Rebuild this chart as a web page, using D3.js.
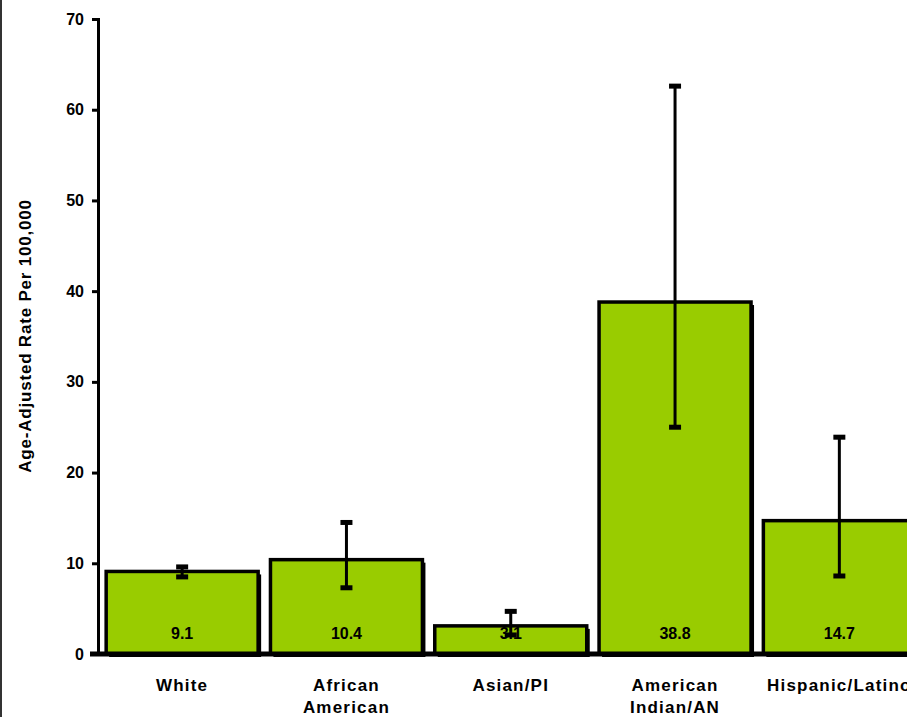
<!DOCTYPE html>
<html>
<head>
<meta charset="utf-8">
<script src="https://cdn.jsdelivr.net/npm/d3@7/dist/d3.min.js"></script>
<style>
  html, body { margin: 0; padding: 0; background: #fff; }
  svg { display: block; }
  text { font-family: "Liberation Sans", Arial, sans-serif; fill: #000; }
</style>
</head>
<body>
<script>
// Age-adjusted rates by race/ethnicity with confidence intervals
const categories = ["White", "African American", "Asian/PI", "American Indian/AN", "Hispanic/Latino"];
const categoryLines = [["White"], ["African", "American"], ["Asian/PI"], ["American", "Indian/AN"], ["Hispanic/Latino"]];
const rates = [9.1, 10.4, 3.1, 38.8, 14.7];
const lower = [8.5, 7.3, 2.1, 25.0, 8.6];
const upper = [9.6, 14.5, 4.7, 62.6, 23.9];
const yTicks = [0, 10, 20, 30, 40, 50, 60, 70];

const W = 907, H = 717;
const svg = d3.select("body").append("svg").attr("width", W).attr("height", H);

// left frame edge
svg.append("rect").attr("x", 0).attr("y", 0).attr("width", 2).attr("height", H).attr("fill", "#333");

const x = d3.scaleBand().domain(categories).range([100, 921.5]).paddingInner(0.075).paddingOuter(0.0375);
const y = d3.scaleLinear().domain([0, 70]).range([654, 19]);

// bars with offset shadow
const g = svg.append("g");
categories.forEach((c, i) => {
  const x0 = x(c), bw = x.bandwidth();
  g.append("rect")
    .attr("x", x0 + 3).attr("y", y(rates[i]) + 3)
    .attr("width", bw).attr("height", y(0) - y(rates[i]))
    .attr("fill", "#000");
  g.append("rect")
    .attr("x", x0).attr("y", y(rates[i]))
    .attr("width", bw).attr("height", y(0) - y(rates[i]))
    .attr("fill", "#99CC00").attr("stroke", "#000").attr("stroke-width", 3.5);
});

// y axis
const yAxis = d3.axisLeft(y).tickValues(yTicks).tickSize(6).tickPadding(8);
const ay = svg.append("g").attr("transform", "translate(98,0)").call(yAxis);
ay.select(".domain").attr("stroke", "#000").attr("stroke-width", 3);
ay.selectAll(".tick line").attr("stroke", "#000").attr("stroke-width", 3);
ay.selectAll(".tick text").attr("font-size", 16).attr("font-weight", "bold")
  .attr("font-family", "'Liberation Sans', Arial, sans-serif").attr("fill", "#000");

// baseline
svg.append("line").attr("x1", 90).attr("x2", W).attr("y1", y(0)).attr("y2", y(0))
  .attr("stroke", "#000").attr("stroke-width", 5);

// error bars
categories.forEach((c, i) => {
  const cx = x(c) + x.bandwidth() / 2;
  svg.append("line").attr("x1", cx).attr("x2", cx).attr("y1", y(upper[i])).attr("y2", y(lower[i]))
    .attr("stroke", "#000").attr("stroke-width", 3);
  [upper[i], lower[i]].forEach(v => {
    svg.append("line").attr("x1", cx - 6).attr("x2", cx + 6).attr("y1", y(v)).attr("y2", y(v))
      .attr("stroke", "#000").attr("stroke-width", 5);
  });
});

// value labels
categories.forEach((c, i) => {
  svg.append("text")
    .attr("x", x(c) + x.bandwidth() / 2).attr("y", 639)
    .attr("text-anchor", "middle").attr("font-size", 16).attr("font-weight", "bold")
    .text(rates[i].toFixed(1));
});

// category labels
categories.forEach((c, i) => {
  const cx = x(c) + x.bandwidth() / 2;
  const t = svg.append("text")
    .attr("x", cx).attr("y", 691)
    .attr("text-anchor", "middle").attr("font-size", 17).attr("font-weight", "bold")
    .attr("letter-spacing", 1.2);
  categoryLines[i].forEach((line, k) => {
    t.append("tspan").attr("x", cx).attr("dy", k === 0 ? 0 : 22).text(line);
  });
});

// y axis title
svg.append("text")
  .attr("transform", "translate(31,336) rotate(-90)")
  .attr("text-anchor", "middle").attr("font-size", 17).attr("font-weight", "bold")
  .attr("letter-spacing", 0.8)
  .text("Age-Adjusted Rate Per 100,000");
</script>
</body>
</html>
